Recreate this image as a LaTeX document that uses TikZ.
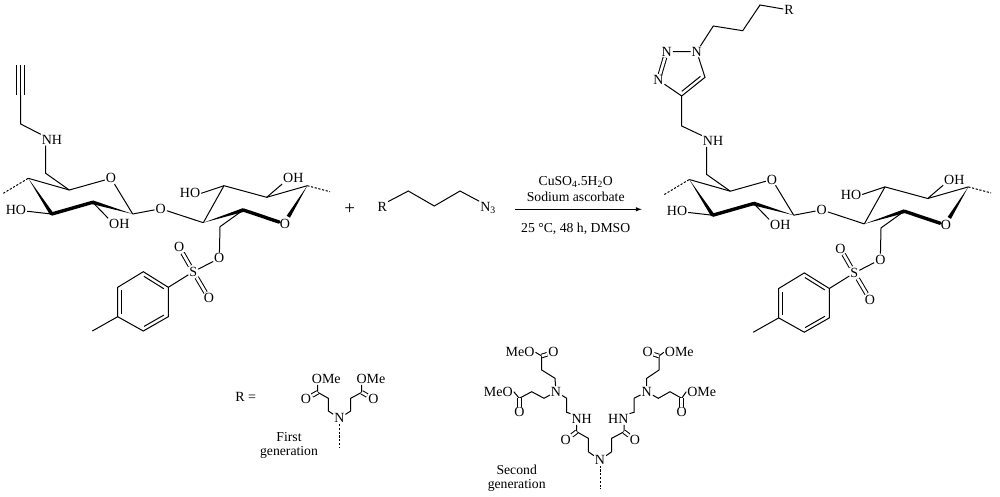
\documentclass[tikz,border=0pt]{standalone}
\usepackage{fontspec}
\setmainfont{Liberation Serif}
\usetikzlibrary{calc}

\tikzset{
  atom/.style = {inner sep=0.6pt, font=\fontsize{14}{14}\selectfont},
  caption/.style = {inner sep=0pt, align=center, font=\fontsize{13.7}{14.4}\selectfont},
  dblbond/.style = {double, double distance=2.6pt},
  hashbond/.style = {dash pattern=on 2.2pt off 1.6pt},
  boldbond/.style = {line width=3.4pt, line cap=round},
}

% tapered bond, narrow at #1
\newcommand{\wedgebond}[2]{\fill ($(#2)!1.9pt!90:(#1)$) -- (#1) -- ($(#2)!1.9pt!-90:(#1)$) -- cycle;}
% second line of a ring double bond, on the left of #1 -> #2
\newcommand{\innerbond}[2]{\draw[shorten <=3pt, shorten >=3pt] ($(#1)!3.6pt!90:(#2)$) -- ($(#2)!3.6pt!-90:(#1)$);}

\newcommand{\saccharide}{
  \coordinate (ca) at (28.3,178.3);
  \coordinate (cb) at (69.3,190);
  \coordinate (cc) at (132.7,214);
  \coordinate (cd) at (92.7,202.3);
  \coordinate (ce) at (51.7,214);
  \coordinate (cf) at (203.3,222.7);
  \coordinate (cg) at (224,185.7);
  \coordinate (ch) at (266.7,197.3);
  \coordinate (ci) at (307.3,185.7);
  \coordinate (cj) at (243.3,210);
  \coordinate (cm) at (45.7,173.3);
  \coordinate (cn) at (220,226.7);
  \coordinate (ck) at (288.3,216.7);
  \coordinate (dl) at (3.3,193.3);
  \coordinate (dr) at (330,191.7);
  \node[atom] (nh) at (52,140) {NH};
  \node[atom] (oa) at (111,178.3) {O};
  \node[atom] (ob) at (160.7,208.7) {O};
  \node[atom] (oc) at (285,224) {O};
  \node[atom] (hoa) at (16,210) {HO};
  \node[atom] (oha) at (119.3,224) {OH};
  \node[atom] (hob) at (190,193.3) {HO};
  \node[atom] (ohb) at (293.3,178.3) {OH};
  \node[atom] (od) at (219.3,258.3) {O};
  \node[atom] (su) at (193.3,271.7) {S};
  \node[atom] (oe) at (179.3,247.3) {O};
  \node[atom] (of) at (209,298.3) {O};

  \draw[hashbond] (dl) -- (ca);
  \draw[hashbond] (ci) -- (dr);
  \draw (cm |- nh.south) -- (cm) -- (cb);
  \draw (ca) -- (cb) -- (oa) -- (cc);
  \wedgebond{ca}{ce}
  \draw[boldbond] (ce) -- (cd);
  \wedgebond{cc}{cd}
  \draw (ce) -- (hoa);
  \draw (cd) -- (oha.north west);
  \draw (cc) -- (ob) -- (cf);
  \draw (cf) -- (cg) -- (ch) -- (ci);
  \wedgebond{cf}{cj}
  \draw[boldbond] (cj) -- ($(cj)!0.86!(oc)$);
  \wedgebond{ci}{ck}
  \draw (cg) -- (hob.east);
  \draw (ch) -- (ohb.south west);
  \draw (cj) -- (cn) -- (od) -- (su);
  \draw[dblbond] (su) -- (oe);
  \draw[dblbond] (su) -- (of);

  % tosyl ring
  \coordinate (pa) at (168.3,287.3);
  \coordinate (pb) at (143.3,271.7);
  \coordinate (pc) at (117.7,287.3);
  \coordinate (pd) at (117.7,316.7);
  \coordinate (pe) at (143.3,331);
  \coordinate (pf) at (168.3,316.7);
  \coordinate (me) at (92.3,331);
  \draw (su) -- (pa);
  \draw (pa) -- (pb) -- (pc) -- (pd) -- (pe) -- (pf) -- cycle;
  \draw (pd) -- (me);
  \innerbond{pa}{pb}
  \innerbond{pc}{pd}
  \innerbond{pe}{pf}
}

\begin{document}
\begin{tikzpicture}[x=1pt, y=-1pt, line width=1pt]
  \useasboundingbox (0,0) rectangle (1000,496);

  % starting polymer
  \begin{scope}[name prefix=l-]
    \saccharide
    \coordinate (ya) at (20.7,124);
    \coordinate (yb) at (20.7,95);
    \coordinate (yc) at (20.7,65);
    \draw (nh.north west) -- (ya) -- (yb);
    \draw[double, double distance=7.4pt] (yb) -- (yc);
    \draw (yb) -- (yc);
  \end{scope}

  \node[atom, font=\fontsize{19}{19}\selectfont] (plus) at (349.7,209) {+};

  % azide
  \node[atom] (ra) at (382.3,207.3) {R};
  \node[atom] (azide) at (488,208) {N\textsubscript{3}};
  \coordinate (za) at (408.3,191);
  \coordinate (zb) at (434.3,206);
  \coordinate (zc) at (460,191);
  \draw (ra.north east) -- (za) -- (zb) -- (zc) -- (azide.north west);

  % reaction arrow
  \coordinate (aa) at (515,209.3);
  \coordinate (ab) at (641.7,209.3);
  \draw[-latex] (aa) -- (ab);
  \node[caption] (cond1) at (575.7,181.7) {CuSO\textsubscript{4}.5H\textsubscript{2}O};
  \node[caption] (cond2) at (575.7,197.3) {Sodium ascorbate};
  \node[caption] (cond3) at (575.7,228.3) {25 °C, 48 h, DMSO};

  % product
  \begin{scope}[shift={(661,1.2)}, name prefix=r-]
    \saccharide
  \end{scope}
  \coordinate (ta) at (681.7,126);
  \coordinate (tb) at (681.7,96);
  \coordinate (tc) at (705,77.3);
  \node[atom] (na) at (696.7,51.7) {N};
  \node[atom] (nb) at (666.7,51.7) {N};
  \node[atom] (nc) at (658.3,80) {N};
  \coordinate (td) at (713.3,26);
  \coordinate (te) at (742.7,30.7);
  \coordinate (tf) at (760,5);
  \node[atom] (rb) at (789,10) {R};
  \draw (r-nh.north west) -- (ta) -- (tb) -- (tc) -- (na) -- (nb);
  \draw[dblbond] (nb) -- (nc);
  \draw (nc) -- (tb);
  \innerbond{tb}{tc}
  \draw (na) -- (td) -- (te) -- (tf) -- (rb);

  % first generation
  \node[atom] (req) at (245.7,396.7) {R =};
  \node[atom] (fa) at (326.3,379) {OMe};
  \node[atom] (fb) at (371,379) {OMe};
  \node[atom] (fc) at (306,399) {O};
  \node[atom] (fd) at (373.3,399) {O};
  \node[atom] (fn) at (339.3,418.3) {N};
  \coordinate (ga) at (317.7,392.3);
  \coordinate (gb) at (328.3,398.3);
  \coordinate (gc) at (328.3,411);
  \coordinate (gd) at (350.7,411);
  \coordinate (ge) at (350.7,398.3);
  \coordinate (gf) at (361.7,392.3);
  \coordinate (gg) at (339.3,447.3);
  \draw (ga |- fa.south) -- (ga) -- (gb) -- (gc) -- (fn) -- (gd) -- (ge) -- (gf) -- (gf |- fb.south);
  \draw[dblbond] (ga) -- (fc);
  \draw[dblbond] (gf) -- (fd);
  \draw[hashbond] (fn) -- (gg);
  \node[caption] (first) at (289,445.5) {First\\generation};

  % second generation
  \node[atom] (sn) at (600,460) {N};
  \node[atom] (sa) at (565.7,440) {O};
  \node[atom] (sb) at (635,440) {O};
  \node[atom] (sc) at (581.7,419.3) {NH};
  \node[atom] (sd) at (618.3,419.3) {HN};
  \node[atom] (se) at (556,391.7) {N};
  \node[atom] (sf) at (646.7,391.7) {N};
  \node[atom] (sg) at (498.3,391.7) {MeO};
  \node[atom] (sh) at (701.7,391.7) {OMe};
  \node[atom] (si) at (519.3,412.3) {O};
  \node[atom] (sj) at (681.7,412.3) {O};
  \node[atom] (sk) at (520,352.3) {MeO};
  \node[atom] (sl) at (679.3,352.3) {OMe};
  \node[atom] (sm) at (553.3,352.3) {O};
  \node[atom] (so) at (647.7,352.3) {O};
  \coordinate (ua) at (588.3,451.7);
  \coordinate (ub) at (588.3,438.3);
  \coordinate (uc) at (576.7,431.7);
  \coordinate (ud) at (566.7,412.3);
  \coordinate (ue) at (566.7,398.3);
  \coordinate (uf) at (544,398.3);
  \coordinate (ug) at (531.7,391.7);
  \coordinate (uh) at (519.3,398.3);
  \coordinate (ui) at (555,378.3);
  \coordinate (uj) at (541.7,370);
  \coordinate (uk) at (541.7,356);
  \coordinate (va) at (611.7,451.7);
  \coordinate (vb) at (611.7,438.3);
  \coordinate (vc) at (624,431.7);
  \coordinate (vd) at (634,412.3);
  \coordinate (ve) at (634,398.3);
  \coordinate (vf) at (658.3,398.3);
  \coordinate (vg) at (670,391.7);
  \coordinate (vh) at (681.7,398.3);
  \coordinate (vi) at (646.7,378.3);
  \coordinate (vj) at (659,370);
  \coordinate (vk) at (659,356);
  \coordinate (ww) at (600,489);
  \draw (sn) -- (ua) -- (ub) -- (uc) -- (uc |- sc.south);
  \draw (sc.north west) -- (ud) -- (ue) -- (se) -- (uf) -- (ug) -- (uh) -- (sg.east);
  \draw (se) -- (ui) -- (uj) -- (uk) -- (sk.east);
  \draw[dblbond] (uc) -- (sa);
  \draw[dblbond] (uh) -- (si);
  \draw[dblbond] (uk) -- (sm);
  \draw (sn) -- (va) -- (vb) -- (vc) -- (vc |- sd.south);
  \draw (sd.north east) -- (vd) -- (ve) -- (sf) -- (vf) -- (vg) -- (vh) -- (sh.west);
  \draw (sf) -- (vi) -- (vj) -- (vk) -- (sl.west);
  \draw[dblbond] (vc) -- (sb);
  \draw[dblbond] (vh) -- (sj);
  \draw[dblbond] (vk) -- (so);
  \draw[hashbond] (sn) -- (ww);
  \node[caption] (second) at (516.7,478.5) {Second\\generation};
\end{tikzpicture}
\end{document}
